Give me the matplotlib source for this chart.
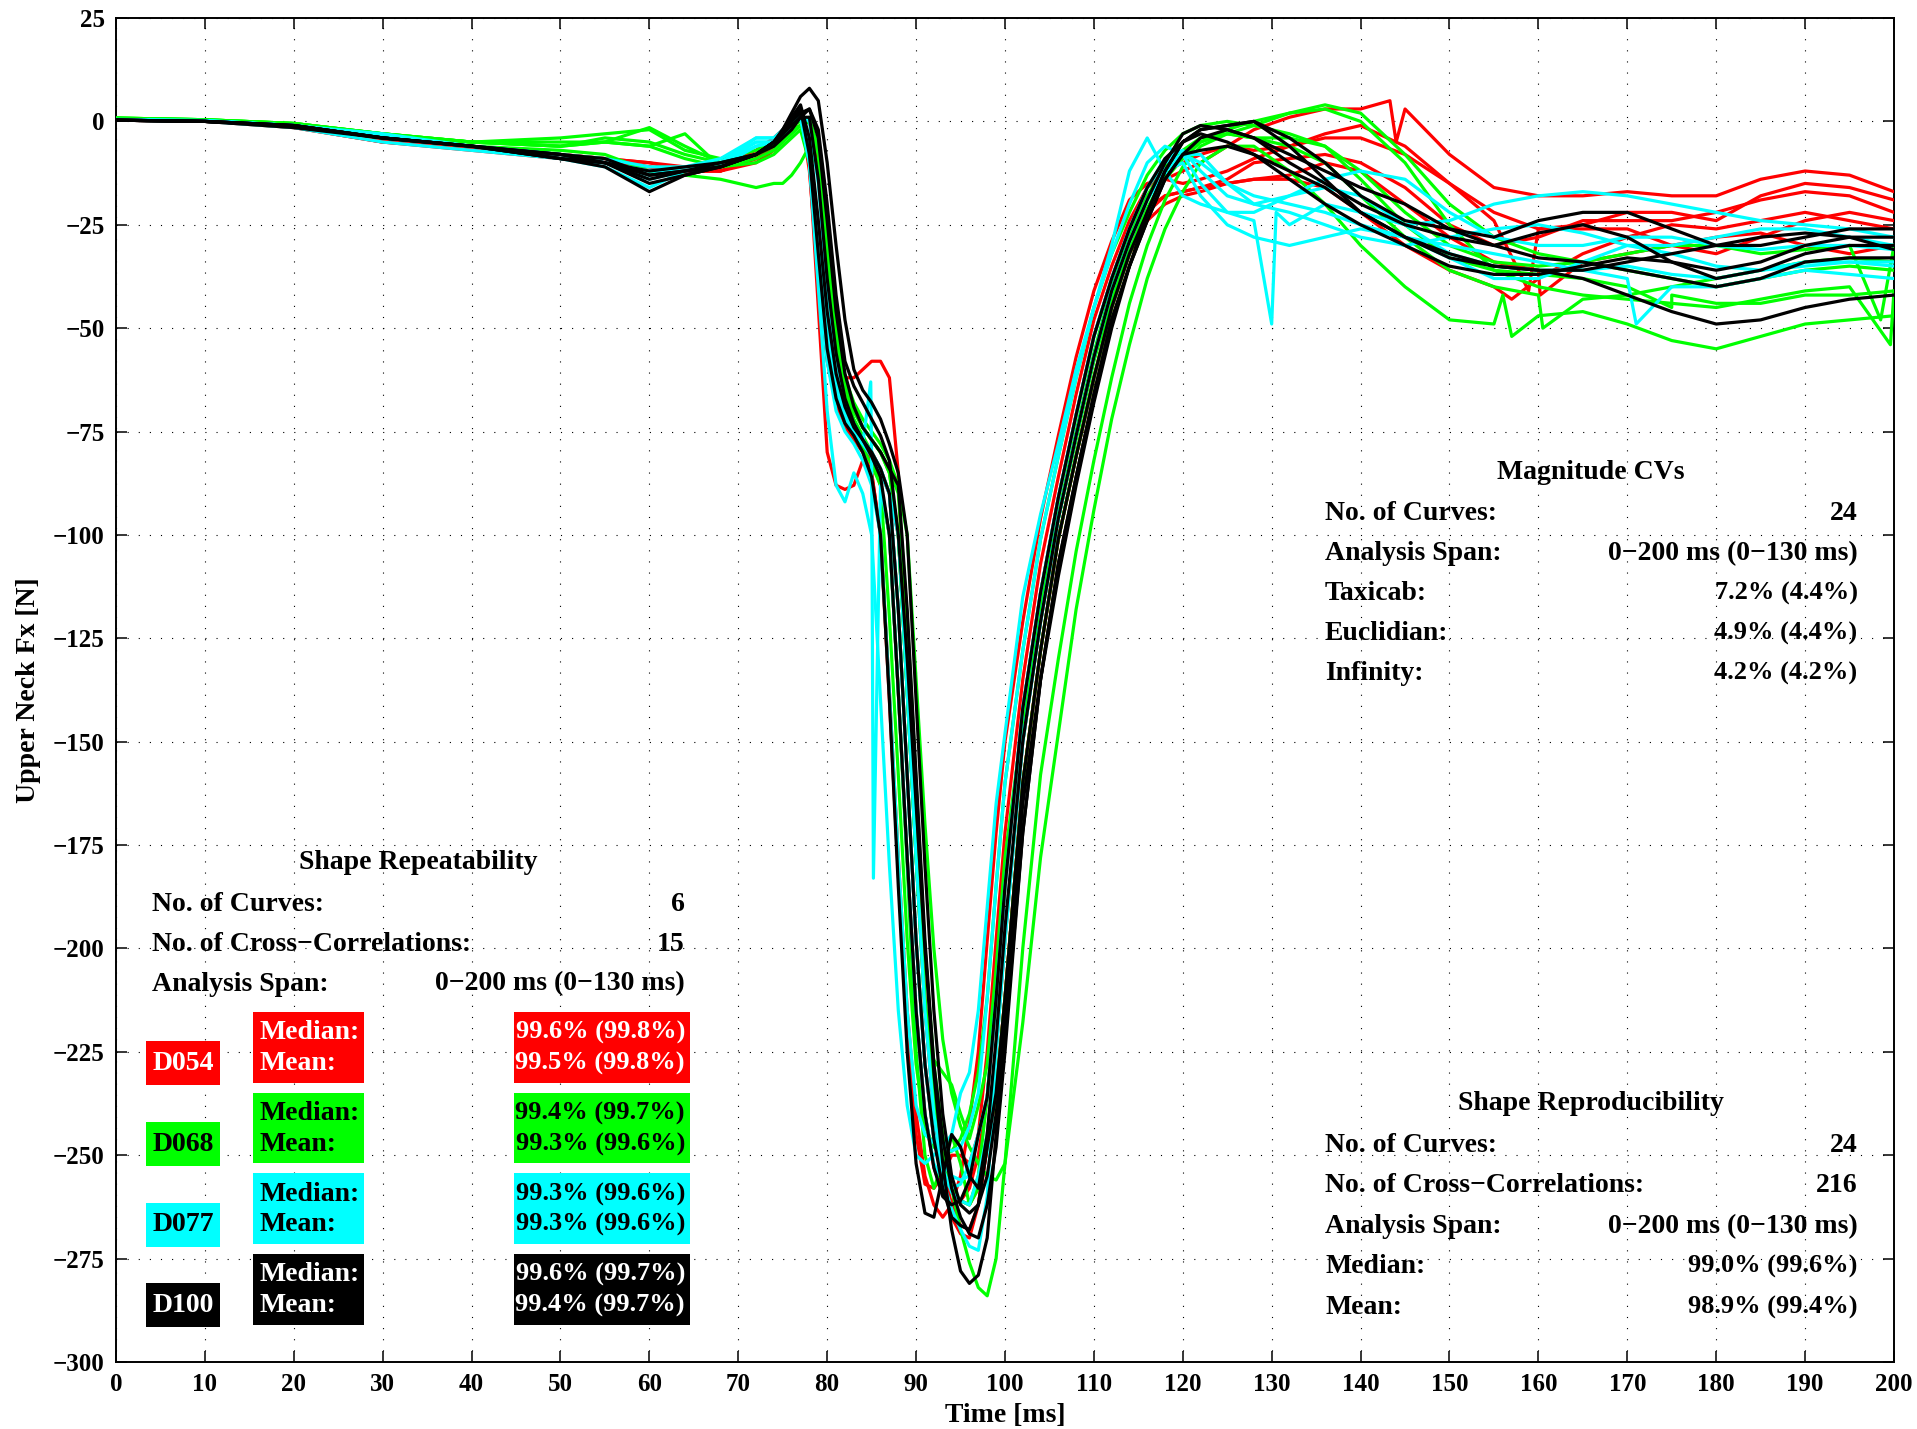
import matplotlib
matplotlib.use('Agg')
import matplotlib.pyplot as plt
from matplotlib.patches import Rectangle

# shared sample times [ms]
T = ([0, 10, 20, 30, 40, 50, 55, 60, 64, 68, 72, 74]
     + list(range(75, 101))
     + list(range(102, 121, 2))
     + [122, 125, 128, 132, 136, 140]
     + list(range(145, 201, 5)))

# D054 (red), one row per trace
d054 = [
    [0.5, 0.2, -1, -4.5, -6, -8, -9, -11, -12, -12, -8, -6,
     -4, -1, 2, -8, -30, -52, -66, -72, -75, -78, -82, -88, -100,
     -138, -178, -215, -240, -253, -259, -262, -261, -258, -250, -236, -212, -185,
     -142, -114, -91, -71, -52, -38, -26, -18, -14, -12,
     -10, -6, -2, 1, 3, 3,
     3, -8, -16, -18, -18, -17, -18, -18, -14, -12, -13, -17],
    [0.3, 0, -1, -5, -6.5, -9, -10, -11, -13, -11, -7, -4,
     -2, 0, 3, -10, -45, -80, -88, -89, -88, -82, -85, -100, -138,
     -178, -215, -240, -255, -262, -265, -262, -255, -242, -225, -198, -172, -150,
     -121, -96, -76, -57, -41, -29, -19, -15, -14, -15,
     -14, -12, -9, -6, -4, -4,
     -8, -15, -24, -26, -25, -22, -22, -24, -18, -15, -16, -19],
    [0.5, 0.2, -1.5, -5, -6, -8, -9, -10, -12, -12, -9, -6,
     -4, -2, -1, 0, -10, -35, -52, -62, -62, -60, -58, -58, -62,
     -85, -135, -175, -212, -238, -253, -262, -267, -268, -262, -248, -235, -212,
     -160, -128, -101, -81, -62, -45, -32, -22, -18, -17,
     -16, -14, -10, -9, -8, -10,
     -16, -25, -30, -28, -24, -24, -24, -22, -19, -17, -18, -22],
    [0.4, 0.1, -1, -4, -6, -8, -9, -10, -11, -12, -10, -7,
     -5, -2, 1, -6, -25, -48, -62, -70, -74, -77, -80, -84, -90,
     -118, -158, -198, -228, -246, -255, -259, -261, -262, -258, -245, -225, -198,
     -150, -121, -96, -76, -57, -41, -29, -21, -18, -17,
     -16, -15, -14, -14, -16, -22,
     -30, -36, -40, -38, -32, -28, -25, -26, -24, -22, -24, -26],
    [0.5, 0.2, -1, -4.5, -6, -9, -10, -12, -12, -11, -8, -5,
     -3, 0, 2, -12, -38, -58, -68, -74, -77, -80, -85, -100, -140,
     -182, -220, -245, -257, -258, -255, -250, -250, -252, -245, -225, -198, -172,
     -135, -107, -86, -66, -48, -35, -24, -16, -12, -10,
     -8, -6, -7, -6, -3, -1,
     -6, -15, -22, -26, -26, -26, -30, -32, -28, -24, -22, -24],
    [0.3, 0, -1.5, -5, -7, -9, -10, -13, -12, -12, -9, -5,
     -3, -1, 2, -8, -28, -50, -64, -71, -75, -78, -81, -85, -90,
     -100, -138, -178, -215, -240, -256, -265, -269, -270, -262, -248, -235, -212,
     -160, -128, -101, -81, -62, -45, -32, -24, -20, -18,
     -17, -15, -14, -13, -10, -12,
     -20, -28, -34, -36, -34, -32, -30, -28, -27, -30, -32, -30],
]

# D068 (green)
d068 = [
    [0.8, 0.4, -0.5, -3, -5, -6, -4, -5, -8, -10, -8, -6,
     -4, -2, -1, 0, -8, -30, -52, -64, -70, -74, -77, -80, -84,
     -90, -120, -160, -200, -228, -245, -258, -268, -276, -282, -284, -275, -252,
     -200, -158, -130, -104, -82, -62, -44, -30, -19, -11,
     -6, -3, -1, 2, 3, 0,
     -10, -25, -36, -40, -42, -43, -44, -45, -43, -41, -40, -41],
    [0.8, 0.4, -0.5, -3, -5, -6, -5, -6, -9, -11, -9, -7,
     -5, -3, -1, 0, -6, -26, -48, -62, -68, -72, -75, -78, -82,
     -88, -100, -135, -170, -200, -222, -235, -243, -248, -252, -255, -256, -252,
     -218, -178, -148, -118, -94, -72, -54, -38, -26, -17,
     -10, -6, -6, -12, -20, -30,
     -40, -48, -49, -47, -46, -49, -53, -55, -52, -49, -48, -47],
    [0.6, 0.3, -1, -4, -6, -7, -8, -12, -13, -14, -16, -15,
     -15, -13, -10, -6, -12, -32, -52, -64, -70, -74, -77, -80, -85,
     -100, -138, -178, -215, -227, -230, -233, -240, -246, -238, -228, -205, -178,
     -145, -118, -95, -75, -56, -40, -28, -18, -11, -7,
     -4, -3, -4, -6, -10, -18,
     -28, -36, -40, -42, -43, -42, -40, -38, -36, -34, -33, -34],
    [0.8, 0.4, -0.5, -3, -5, -4, -3, -2, -7, -9, -7, -5,
     -3, -1, 0, 1, -8, -32, -55, -66, -72, -76, -80, -88, -100,
     -138, -180, -225, -250, -258, -252, -245, -252, -262, -255, -236, -210, -182,
     -145, -118, -96, -77, -58, -43, -31, -21, -13, -8,
     -5, -2, 0, 2, 4, 2,
     -8, -20, -28, -32, -34, -36, -38, -40, -38, -36, -35, -36],
    [0.7, 0.3, -1, -3.5, -5, -5, -5, -1.5, -6, -10, -8, -6,
     -4, -2, -1, 0, -6, -28, -50, -63, -70, -74, -77, -80, -85,
     -100, -138, -178, -212, -236, -250, -258, -261, -262, -258, -248, -235, -212,
     -160, -128, -101, -81, -62, -45, -32, -22, -14, -9,
     -5, -3, -4, -4, -6, -12,
     -22, -30, -34, -35, -34, -32, -30, -30, -32, -31, -30, -30],
    [0.8, 0.4, -0.5, -3, -5, -6, -5, -6, -3, -11, -10, -8,
     -6, -4, -2, -10, -32, -54, -66, -72, -76, -79, -83, -88, -120,
     -158, -198, -228, -243, -248, -250, -249, -246, -240, -230, -212, -185, -160,
     -128, -101, -81, -62, -45, -32, -22, -13, -7, -3,
     -1, 0, -1, -3, -6, -14,
     -25, -33, -36, -37, -38, -40, -42, -44, -44, -42, -42, -41],
]

# D077 (cyan)
d077 = [
    [0.3, 0.1, -1, -3, -6, -8, -10, -14, -12, -10, -4, -4,
     -3, 0, 1, -10, -40, -70, -88, -92, -85, -90, -100, -140, -180,
     -215, -238, -250, -252, -250, -248, -245, -235, -230, -215, -190, -165, -148,
     -115, -95, -78, -60, -45, -30, -12, -4, -12, -18,
     -20, -22, -24, -25, -20, -22,
     -25, -24, -20, -18, -17, -18, -20, -22, -24, -25, -26, -28],
    [0.4, 0.2, -1, -4, -6, -9, -11, -16, -12, -11, -6, -5,
     -3, -1, 1, -8, -30, -52, -66, -72, -75, -78, -82, -88, -100,
     -138, -178, -215, -240, -252, -256, -258, -257, -252, -245, -236, -212, -185,
     -142, -114, -91, -71, -52, -38, -26, -16, -10, -8,
     -10, -15, -20, -22, -25, -28,
     -30, -28, -26, -25, -27, -30, -32, -35, -36, -35, -34, -35],
    [0.3, 0, -1.5, -5, -7, -9, -10, -13, -11, -10, -5, -5,
     -3, 0, 2, -6, -26, -48, -62, -70, -74, -77, -80, -84, -90,
     -118, -158, -198, -228, -246, -256, -263, -268, -272, -273, -260, -225, -198,
     -150, -121, -96, -76, -57, -41, -29, -19, -12, -10,
     -18, -25, -28, -30, -28, -26,
     -28, -33, -38, -38, -34, -30, -30, -28, -26, -26, -28, -30],
    [0.5, 0.2, -1, -3.5, -6, -8, -10, -12, -11, -9, -4, -4,
     -2, 0, 1, -10, -35, -58, -70, -75, -78, -82, -88, -100, -138,
     -178, -215, -238, -245, -247, -248, -249, -248, -243, -235, -212, -185, -160,
     -128, -101, -81, -62, -45, -32, -20, -10, -6, -8,
     -15, -22, -22, -18, -16, -18,
     -25, -32, -35, -36, -36, -35, -37, -38, -36, -34, -34, -34],
    [0.4, 0.1, -1, -4, -6, -8, -9, -11, -11, -10, -6, -5,
     -3, 0, 2, -8, -28, -50, -64, -71, -75, -78, -81, -85, -90,
     -100, -138, -178, -215, -240, -253, -259, -261, -262, -255, -245, -225, -198,
     -150, -121, -96, -76, -57, -41, -29, -19, -12, -8,
     -8, -15, -18, -20, -22, -25,
     -28, -30, -32, -34, -36, -38, -40, -40, -38, -36, -37, -38],
    [0.3, 0.1, -1, -4, -6, -9, -10, -12, -12, -10, -5, -5,
     -3, -1, 1, 0, -15, -40, -58, -68, -73, -77, -80, -84, -90,
     -118, -158, -198, -228, -245, -252, -255, -256, -255, -245, -236, -212, -185,
     -142, -114, -91, -71, -52, -38, -26, -16, -9, -7,
     -12, -18, -20, -18, -14, -12,
     -14, -22, -28, -30, -30, -28, -28, -30, -31, -30, -30, -31],
]

# D100 (black)
d100 = [
    [0.3, 0, -1.5, -4, -6, -9, -10, -14, -12, -10, -8, -5,
     -2, 2, 6, 8, 5, -10, -30, -48, -60, -65, -68, -72, -78,
     -85, -100, -140, -180, -215, -240, -255, -262, -264, -262, -255, -240, -222,
     -172, -135, -107, -86, -66, -48, -35, -24, -14, -8,
     -7, -6, -8, -12, -16, -22,
     -28, -33, -35, -36, -38, -42, -46, -49, -48, -45, -43, -42],
    [0.3, 0, -1, -4, -6, -9, -11, -17, -13, -11, -8, -5,
     -3, 0, 2, 3, -2, -20, -42, -58, -64, -68, -72, -76, -82,
     -100, -130, -165, -200, -230, -252, -268, -278, -281, -279, -270, -245, -215,
     -165, -135, -110, -88, -68, -50, -35, -22, -12, -5,
     -2, -1, 0, -6, -14, -22,
     -28, -32, -35, -36, -36, -34, -32, -30, -28, -27, -28, -31],
    [0.3, 0, -1, -4, -6, -8, -10, -12, -11, -10, -8, -5,
     -3, 0, 3, -8, -32, -55, -67, -73, -76, -80, -86, -100, -140,
     -185, -225, -252, -264, -265, -255, -245, -248, -255, -258, -245, -222, -195,
     -150, -121, -96, -76, -57, -41, -29, -19, -10, -3,
     -1, -2, -4, -10, -15, -20,
     -25, -28, -30, -27, -25, -28, -34, -38, -36, -32, -30, -30],
    [0.3, 0, -1, -4, -6, -8, -9, -13, -12, -11, -8, -5,
     -2, 1, 4, -4, -24, -46, -61, -69, -74, -77, -80, -84, -90,
     -118, -158, -198, -228, -246, -258, -265, -267, -268, -262, -248, -235, -212,
     -160, -128, -101, -81, -62, -45, -32, -22, -12, -5,
     -2, -1, 0, -4, -10, -18,
     -24, -26, -28, -24, -22, -22, -26, -30, -30, -28, -26, -26],
    [0.3, 0, -1, -4, -6, -9, -10, -15, -13, -11, -8, -5,
     -3, -1, 1, 1, -14, -38, -56, -67, -73, -77, -81, -86, -100,
     -138, -178, -215, -240, -253, -260, -262, -261, -256, -245, -236, -212, -185,
     -142, -114, -91, -71, -52, -38, -26, -16, -9, -5,
     -3, -5, -8, -14, -20, -25,
     -30, -35, -37, -37, -35, -33, -34, -36, -34, -30, -28, -28],
    [0.3, 0, -1, -4, -6, -8, -10, -13, -12, -11, -8, -6,
     -4, -2, 1, 3, -4, -24, -46, -61, -69, -74, -77, -80, -84,
     -88, -118, -158, -198, -228, -246, -258, -265, -269, -270, -262, -248, -225,
     -172, -135, -107, -86, -66, -48, -35, -24, -14, -8,
     -4, -2, -4, -8, -12, -16,
     -20, -26, -30, -33, -34, -36, -38, -40, -38, -34, -33, -33],
]

# short spikes (time, value) seen in single traces
d054Spikes = [[(143.3, 5), (144.0, -5)], [(158.9, -41)], [], [(157.0, -43)], [], [(160.2, -42)]]
d068Spikes = [[(199.6, -54)], [(156.0, -42), (157.0, -52)], [(160.5, -50)], [], [(198.5, -48)], [(175.0, -45)]]
d077Spikes = [[(130.0, -49), (130.5, -22)], [(84.9, -63), (85.2, -183)], [], [], [(171.0, -49)], []]
d100Spikes = [[], [], [], [], [], []]

subjects = ['D054', 'D068', 'D077', 'D100']
subjectColours = [(1, 0, 0), (0, 1, 0), (0, 1, 1), (0, 0, 0)]
subjectTextColours = ['white', 'black', 'black', 'white']
subjectMedians = ['99.6% (99.8%)', '99.4% (99.7%)', '99.3% (99.6%)', '99.6% (99.7%)']
subjectMeans = ['99.5% (99.8%)', '99.3% (99.6%)', '99.3% (99.6%)', '99.4% (99.7%)']

repeatLabels = ['No. of Curves:', 'No. of Cross\u2212Correlations:', 'Analysis Span:']
repeatValues = ['6', '15', '0\u2212200 ms (0\u2212130 ms)']
magnitudeLabels = ['No. of Curves:', 'Analysis Span:', 'Taxicab:', 'Euclidian:', 'Infinity:']
magnitudeValues = ['24', '0\u2212200 ms (0\u2212130 ms)', '7.2% (4.4%)', '4.9% (4.4%)', '4.2% (4.2%)']
reproLabels = ['No. of Curves:', 'No. of Cross\u2212Correlations:', 'Analysis Span:', 'Median:', 'Mean:']
reproValues = ['24', '216', '0\u2212200 ms (0\u2212130 ms)', '99.0% (99.6%)', '98.9% (99.4%)']

plt.rcParams['font.family'] = ['Liberation Serif', 'DejaVu Serif']
plt.rcParams['font.weight'] = 'bold'
plt.rcParams['axes.labelweight'] = 'bold'

fontSize = 20
percentSize = 19

def withSpikes(values, spikes):
    points = sorted(list(zip(T, values)) + spikes)
    return [p[0] for p in points], [p[1] for p in points]

def valueSize(text):
    return percentSize if '%' in text else fontSize

fig = plt.figure(figsize=(19.17, 14.29), dpi=100)
ax = fig.add_axes([0.0605, 0.0469, 0.9275, 0.9405])

for curves, spikes, colour in zip([d054, d068, d077, d100],
                                  [d054Spikes, d068Spikes, d077Spikes, d100Spikes],
                                  subjectColours):
    for values, spikeList in zip(curves, spikes):
        t, v = withSpikes(values, spikeList)
        ax.plot(t, v, color=colour, lw=2.3, zorder=3, solid_joinstyle='round')

ax.set_xlim(0, 200)
ax.set_ylim(-300, 25)
ax.set_xticks(range(0, 201, 10))
ax.set_yticks(range(-300, 26, 25))
ax.grid(True, linestyle=(0, (1, 9)), color='black', lw=0.8)
ax.tick_params(direction='in', top=True, right=True, length=8, width=1.1,
               labelsize=18, pad=8)
for spine in ax.spines.values():
    spine.set_linewidth(1.4)
ax.set_xlabel('Time [ms]', fontsize=fontSize, labelpad=5)
ax.set_ylabel('Upper Neck Fx [N]', fontsize=fontSize, labelpad=9)

# shape repeatability block
ax.text(34.0, -179.3, 'Shape Repeatability', fontsize=fontSize, ha='center', va='center', zorder=5)
for i, (label, value) in enumerate(zip(repeatLabels, repeatValues)):
    y = -189.3 - i * 9.65
    ax.text(4.1, y, label, fontsize=fontSize, ha='left', va='center', zorder=5)
    ax.text(64.0, y, value, fontsize=valueSize(value), ha='right', va='center', zorder=5)

for i, subject in enumerate(subjects):
    top = -215.4 - i * 19.5
    colour = subjectColours[i]
    textColour = subjectTextColours[i]
    ax.add_patch(Rectangle((15.4, top - 17.1), 12.5, 17.1, fc=colour, ec='none', zorder=4))
    ax.add_patch(Rectangle((44.8, top - 17.1), 19.8, 17.1, fc=colour, ec='none', zorder=4))
    ax.add_patch(Rectangle((3.4, top - 17.7), 8.3, 10.6, fc=colour, ec='none', zorder=4))
    ax.text(16.2, top - 5.0, 'Median:', color=textColour, fontsize=fontSize, ha='left', va='center', zorder=5)
    ax.text(16.2, top - 12.4, 'Mean:', color=textColour, fontsize=fontSize, ha='left', va='center', zorder=5)
    ax.text(64.0, top - 5.0, subjectMedians[i], color=textColour, fontsize=percentSize, ha='right', va='center', zorder=5)
    ax.text(64.0, top - 12.4, subjectMeans[i], color=textColour, fontsize=percentSize, ha='right', va='center', zorder=5)
    ax.text(7.55, top - 12.4, subject, color=textColour, fontsize=fontSize, ha='center', va='center', zorder=5)

# magnitude CVs block
ax.text(165.9, -84.9, 'Magnitude CVs', fontsize=fontSize, ha='center', va='center', zorder=5)
for i, (label, value) in enumerate(zip(magnitudeLabels, magnitudeValues)):
    y = -94.7 - i * 9.7
    ax.text(136.0, y, label, fontsize=fontSize, ha='left', va='center', zorder=5)
    ax.text(195.9, y, value, fontsize=valueSize(value), ha='right', va='center', zorder=5)

# shape reproducibility block
ax.text(165.9, -237.6, 'Shape Reproducibility', fontsize=fontSize, ha='center', va='center', zorder=5)
for i, (label, value) in enumerate(zip(reproLabels, reproValues)):
    y = -247.6 - i * 9.8
    ax.text(136.0, y, label, fontsize=fontSize, ha='left', va='center', zorder=5)
    ax.text(195.9, y, value, fontsize=valueSize(value), ha='right', va='center', zorder=5)

fig.savefig('out.png', dpi=100)
